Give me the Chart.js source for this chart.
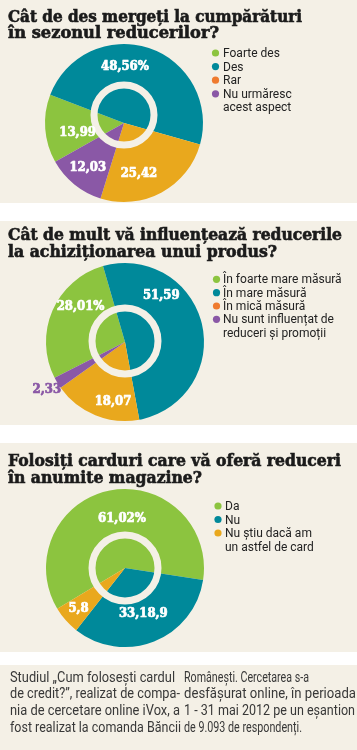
<!DOCTYPE html>
<html><head><meta charset="utf-8">
<script src="https://cdn.jsdelivr.net/npm/chart.js@4.4.0/dist/chart.umd.min.js"></script>
<style>
html,body{margin:0;padding:0;background:#fff;}
#page{position:relative;width:357px;height:750px;overflow:hidden;background:#fff;}
.panel{position:absolute;left:0;width:357px;background:#f4f0e6;}
.pie{position:absolute;width:200px;height:200px;}
#txt{position:absolute;left:0;top:0;}
</style></head><body>
<div id="page">
  <div class="panel" style="top:0;height:203px"></div>
  <div class="panel" style="top:221px;height:204px"></div>
  <div class="panel" style="top:443px;height:209px"></div>
  <div class="panel" style="top:665px;height:85px"></div>
  <div class="pie" style="left:24px;top:23px"><canvas id="c1" width="200" height="200"></canvas></div>
  <div class="pie" style="left:25px;top:242px"><canvas id="c2" width="200" height="200"></canvas></div>
  <div class="pie" style="left:25px;top:468px"><canvas id="c3" width="200" height="200"></canvas></div>
  <svg id="txt" width="357" height="750" xmlns="http://www.w3.org/2000/svg"></svg>
</div>
<script>
// ---------- data ----------
const titles1 = ["Cât de des mergeți la cumpărături", "în sezonul reducerilor?"];
const categories1 = [["Foarte des"], ["Des"], ["Rar"], ["Nu urmăresc", "acest aspect"]];
const values1 = [13.99, 48.56, 25.42, 12.03];
const valueLabels1 = ["13,99", "48,56%", "25,42", "12,03"];

const titles2 = ["Cât de mult vă influențează reducerile", "la achiziționarea unui produs?"];
const categories2 = [["În foarte mare măsură"], ["În mare măsură"], ["În mică măsură"], ["Nu sunt influențat de", "reduceri și promoții"]];
const values2 = [28.01, 51.59, 18.07, 2.33];
const valueLabels2 = ["28,01%", "51,59", "18,07", "2,33"];

const titles3 = ["Folosiți carduri care vă oferă reduceri", "în anumite magazine?"];
const categories3 = [["Da"], ["Nu"], ["Nu știu dacă am", "un astfel de card"]];
const values3 = [61.02, 33.18, 5.8];
const valueLabels3 = ["61,02%", "33,18,9", "5,8"];

const noteCol1 = ["Studiul „Cum folosești cardul", "de credit?”, realizat de compa-", "nia de cercetare online iVox, a", "fost realizat la comanda Băncii"];
const noteCol2 = ["Românești. Cercetarea s-a", "desfășurat online, în perioada", "1 - 31 mai 2012 pe un eșantion", "de 9.093 de respondenți."];

// ---------- styles ----------
const CREAM = '#f4f0e6';
const GREEN = '#8cc43f', TEAL = '#00899a', ORANGE = '#e9a81d', PURPLE = '#8a58a6', LORANGE = '#ef7b2f';
const TITLE_FONT = '"DejaVu Serif Condensed", "DejaVu Serif", serif';
const SANS = 'Roboto, "Liberation Sans", sans-serif';

const overlay = {
  id: 'overlay',
  afterDatasetsDraw(chart, args, o) {
    const a0 = chart.getDatasetMeta(0).data[0];
    const cx = a0.x, cy = a0.y, r = a0.outerRadius;
    const ctx = chart.ctx;
    ctx.save();
    ctx.beginPath();
    ctx.arc(cx + o.ringDx, cy + o.ringDy, o.ringR, 0, Math.PI * 2);
    ctx.lineWidth = o.ringW; ctx.strokeStyle = CREAM; ctx.stroke();
    ctx.font = 'bold 13px ' + TITLE_FONT;
    ctx.textAlign = 'center'; ctx.textBaseline = 'middle';
    ctx.lineWidth = 0.7; ctx.lineJoin = 'round';
    o.place.forEach((p, i) => {
      const a = (p[0] - 90) * Math.PI / 180;
      const x = cx + Math.cos(a) * r * p[1], y = cy + Math.sin(a) * r * p[1];
      ctx.fillStyle = p[2] || '#fff';
      ctx.strokeStyle = p[2] || '#fff';
      ctx.fillText(o.texts[i], x, y);
      ctx.strokeText(o.texts[i], x, y);
    });
    ctx.restore();
  }
};

function makePie(id, labels, data, colors, rotation, ov) {
  return new Chart(document.getElementById(id), {
    type: 'pie',
    data: { labels: labels, datasets: [{ data: data, backgroundColor: colors, borderWidth: 0, hoverOffset: 0, offset: 0 }] },
    options: {
      responsive: false, animation: false, rotation: rotation,
      layout: { padding: 21 },
      events: [],
      plugins: { legend: { display: false }, tooltip: { enabled: false }, overlay: ov }
    },
    plugins: [overlay]
  });
}

makePie('c1', categories1, values1, [GREEN, TEAL, ORANGE, PURPLE], 240.6,
  { ringDx: 0, ringDy: -8, ringR: 30, ringW: 7, texts: valueLabels1,
    place: [[258, 0.6], [1, 0.71], [163.6, 0.67], [219, 0.73]] });
makePie('c2', categories2, values2, [GREEN, TEAL, ORANGE, PURPLE], 243,
  { ringDx: 0, ringDy: -1, ringR: 33, ringW: 7, texts: valueLabels2,
    place: [[308.6, 0.72], [38.3, 0.74], [191.4, 0.77], [238.5, 1.16, PURPLE]] });
makePie('c3', categories3, values3, [GREEN, TEAL, ORANGE], 239,
  { ringDx: 0, ringDy: 0, ringR: 33, ringW: 7, texts: valueLabels3,
    place: [[356.5, 0.63], [158, 0.62], [228.9, 0.78]] });

// ---------- text (SVG) ----------
const svg = document.getElementById('txt');
const NS = 'http://www.w3.org/2000/svg';
function txt(s, x, y, font, size, weight, color, len) {
  const t = document.createElementNS(NS, 'text');
  t.setAttribute('x', x); t.setAttribute('y', y);
  t.setAttribute('font-family', font); t.setAttribute('font-size', size);
  t.setAttribute('font-weight', weight); t.setAttribute('fill', color);
  if (len) { t.setAttribute('textLength', len); t.setAttribute('lengthAdjust', 'spacingAndGlyphs'); }
  t.textContent = s; svg.appendChild(t); return t;
}
function dot(x, y, c) {
  const e = document.createElementNS(NS, 'circle');
  e.setAttribute('cx', x); e.setAttribute('cy', y); e.setAttribute('r', 3.6); e.setAttribute('fill', c);
  svg.appendChild(e);
}
function title(lines, ys, lens) {
  lines.forEach((s, i) => {
    const t = txt(s, 8, ys[i], TITLE_FONT, 17, 'bold', '#1b1b1b', lens[i]);
    t.setAttribute('stroke', '#1b1b1b'); t.setAttribute('stroke-width', '0.6');
  });
}
title(titles1, [22, 37.5], [294, 211]);
title(titles2, [240, 256.5], [334, 269]);
title(titles3, [465.5, 482.5], [333, 194]);

function legend(cats, colors, dx, tx, y0, step) {
  let y = y0;
  cats.forEach((lines, i) => {
    dot(dx, y - 4, colors[i]);
    lines.forEach(s => { txt(s, tx, y, SANS, 12, 'normal', '#222', null); y += step; });
  });
}
legend(categories1, [GREEN, TEAL, LORANGE, PURPLE], 215.5, 223, 57, 13.6);
legend(categories2, [GREEN, TEAL, LORANGE, PURPLE], 216.5, 223, 283.3, 13.35);
legend(categories3, [GREEN, TEAL, ORANGE], 218, 225, 510, 13.5);

const noteY = [681.7, 698.3, 715, 731.7];
const len1 = [165, 170, 170, 171], len2 = [125, 172, 171, 118];
noteCol1.forEach((s, i) => txt(s, 10, noteY[i], SANS, 14, 'normal', '#383838', len1[i]));
noteCol2.forEach((s, i) => txt(s, 184, noteY[i], SANS, 14, 'normal', '#383838', len2[i]));
</script>
</body></html>
